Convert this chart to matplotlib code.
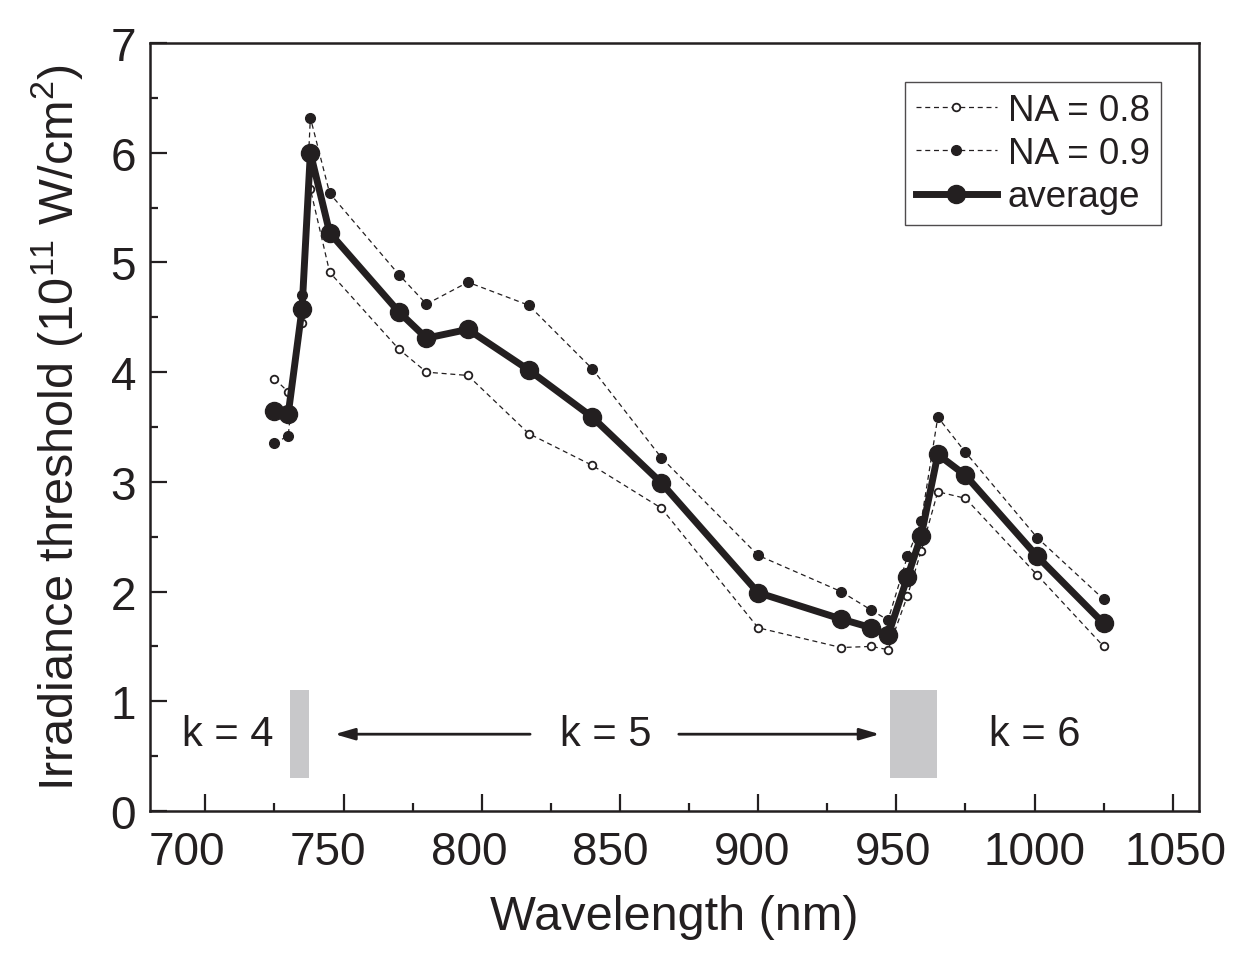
import matplotlib
matplotlib.use("Agg")
import matplotlib.pyplot as plt
import matplotlib.transforms as mtransforms
from matplotlib.ticker import MultipleLocator

plt.rcParams['font.family'] = ['Liberation Sans', 'DejaVu Sans']
plt.rcParams['mathtext.fontset'] = 'custom'
plt.rcParams['mathtext.rm'] = 'Liberation Sans'

INK = '#231f20'

# wavelengths (nm)
wavelength = [725, 730, 735, 738, 745, 770, 780, 795, 817, 840, 865,
              900, 930, 941, 947, 954, 959, 965, 975, 1001, 1025]
# irradiance threshold (1e11 W/cm^2)
na08 = [3.94, 3.82, 4.45, 5.67, 4.91, 4.21, 4.00, 3.97, 3.44, 3.15, 2.76,
        1.67, 1.49, 1.50, 1.47, 1.96, 2.37, 2.91, 2.85, 2.15, 1.50]
na09 = [3.35, 3.42, 4.70, 6.32, 5.63, 4.89, 4.62, 4.82, 4.61, 4.03, 3.22,
        2.33, 2.00, 1.83, 1.74, 2.32, 2.64, 3.59, 3.27, 2.49, 1.93]
average = [3.65, 3.62, 4.58, 6.00, 5.27, 4.55, 4.31, 4.39, 4.02, 3.59, 2.99,
           1.99, 1.75, 1.67, 1.60, 2.13, 2.51, 3.25, 3.06, 2.32, 1.71]

# order boundaries (gray bands) and labels
bands = [(730.5, 737.5), (947.7, 964.8)]
band_y = (0.3, 1.1)
k_labels = ['k = 4', 'k = 5', 'k = 6']
k_x = [708, 845, 1000]
k_y = 0.7

fig = plt.figure(figsize=(12.38, 9.70), dpi=100)
ax = fig.add_axes([0.1212, 0.1629, 0.8473, 0.7917])

for x0, x1 in bands:
    ax.fill_between([x0, x1], band_y[0], band_y[1], color='#c8c8ca', lw=0, zorder=1)

ax.plot(wavelength, na08, ls=(0, (4, 3)), lw=0.9, color=INK, marker='o',
        ms=5.5, mfc='white', mec=INK, mew=1.3, label='NA = 0.8', zorder=3)
ax.plot(wavelength, na09, ls=(0, (4, 3)), lw=0.9, color=INK, marker='o',
        ms=7, mfc=INK, mec=INK, label='NA = 0.9', zorder=3)
ax.plot(wavelength, average, ls='-', lw=5, color=INK, marker='o',
        ms=13, mfc=INK, mec=INK, label='average', zorder=4)

for lab, x in zip(k_labels, k_x):
    ax.text(x, k_y, lab, ha='center', va='center', fontsize=30, color=INK)

arrow_style = dict(arrowstyle='-|>,head_length=1.2,head_width=0.35',
                   color=INK, lw=2, shrinkA=0, shrinkB=0)
ax.annotate('', xy=(746.8, k_y), xytext=(817.5, k_y), arrowprops=arrow_style)
ax.annotate('', xy=(944, k_y), xytext=(871.3, k_y), arrowprops=arrow_style)

ax.set_xlim(680, 1059.5)
ax.set_ylim(0, 7)
ax.xaxis.set_major_locator(MultipleLocator(50))
ax.xaxis.set_minor_locator(MultipleLocator(25))
ax.yaxis.set_major_locator(MultipleLocator(1))
ax.yaxis.set_minor_locator(MultipleLocator(0.5))
ax.tick_params(which='both', direction='in', width=1.6, color=INK,
               labelsize=33, labelcolor=INK)
ax.tick_params(which='major', length=12, pad=14)
ax.tick_params(which='minor', length=6)
ax.tick_params(axis='y', pad=10)
for s in ax.spines.values():
    s.set_linewidth(1.8)
    s.set_color(INK)

# in the original the x tick labels are spread a bit wider than the ticks
for val, lbl in zip(ax.get_xticks(), ax.get_xticklabels()):
    dx = 0.062 * (val - 1000) / 100.0
    lbl.set_transform(lbl.get_transform() +
                      mtransforms.ScaledTranslation(dx, 0, fig.dpi_scale_trans))

ax.set_xlabel('Wavelength (nm)', fontsize=35, color=INK, labelpad=14)
ax.set_ylabel('Irradiance threshold (10$^{11}$ W/cm$^{2}$)', fontsize=35,
              color=INK, labelpad=18)

leg = ax.legend(loc='upper right', bbox_to_anchor=(0.9638, 0.949), fontsize=26.5,
                frameon=True, fancybox=False, edgecolor=INK, handlelength=2.2,
                borderpad=0.3, labelspacing=0.22, handletextpad=0.3,
                borderaxespad=0)
leg.get_frame().set_linewidth(1.0)
for t in leg.get_texts():
    t.set_color(INK)

fig.savefig('out.png', dpi=100)
